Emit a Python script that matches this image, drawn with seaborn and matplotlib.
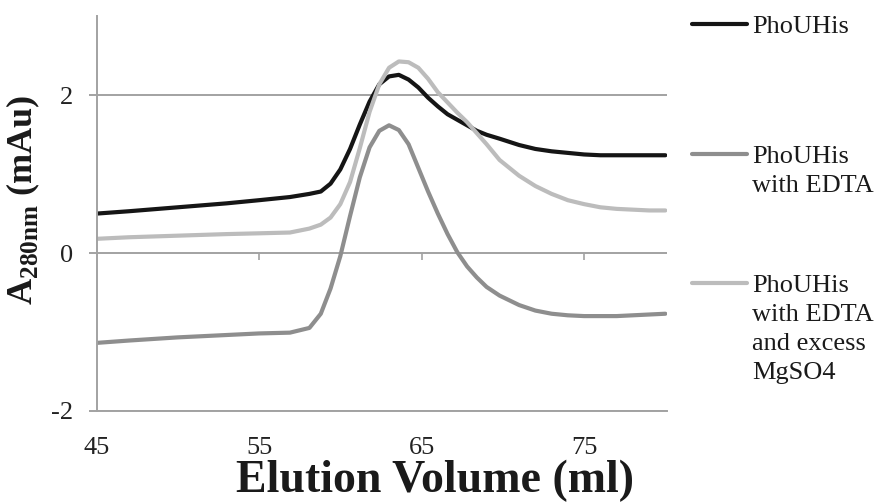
import pandas as pd
import matplotlib
matplotlib.use('Agg')
import matplotlib.pyplot as plt
from matplotlib.lines import Line2D
import seaborn as sns

# elution volume (ml)
volume = [45, 47, 50, 53, 55, 56.9, 58.1, 58.8, 59.4, 60.0, 60.6, 61.2, 61.8, 62.4, 63.0,
          63.6, 64.2, 64.8, 65.4, 66.0, 66.6, 67.2, 67.8, 68.4, 69.0, 69.8, 71, 72, 73,
          74, 75, 76, 77, 78, 79, 80]

phouhis = [0.50, 0.53, 0.58, 0.63, 0.67, 0.71, 0.75, 0.78, 0.88, 1.06, 1.32, 1.63, 1.92,
           2.14, 2.24, 2.26, 2.20, 2.10, 1.97, 1.86, 1.76, 1.69, 1.62, 1.55, 1.50, 1.45,
           1.37, 1.32, 1.29, 1.27, 1.25, 1.24, 1.24, 1.24, 1.24, 1.24]

phouhis_edta = [-1.14, -1.11, -1.07, -1.04, -1.02, -1.01, -0.95, -0.77, -0.45, -0.04,
                0.47, 0.96, 1.34, 1.55, 1.62, 1.56, 1.38, 1.08, 0.78, 0.50, 0.24, 0.01,
                -0.17, -0.31, -0.43, -0.54, -0.66, -0.73, -0.77, -0.79, -0.80, -0.80,
                -0.80, -0.79, -0.78, -0.77]

phouhis_edta_mg = [0.18, 0.20, 0.22, 0.24, 0.25, 0.26, 0.31, 0.36, 0.45, 0.62, 0.90, 1.33,
                   1.79, 2.14, 2.35, 2.43, 2.42, 2.35, 2.21, 2.04, 1.91, 1.78, 1.66, 1.52,
                   1.38, 1.18, 0.98, 0.85, 0.75, 0.67, 0.62, 0.58, 0.56, 0.55, 0.54, 0.54]

labels = ['PhoUHis', 'PhoUHis\nwith EDTA', 'PhoUHis\nwith EDTA\nand excess\nMgSO4']
colors = ['#151515', '#8e8e8e', '#bcbcbc']

df = pd.DataFrame({
    'volume': volume * 3,
    'a280': phouhis + phouhis_edta + phouhis_edta_mg,
    'sample': [labels[0]] * len(volume) + [labels[1]] * len(volume) + [labels[2]] * len(volume),
})

sns.set_style('white')
plt.rcParams['font.family'] = ['Liberation Serif', 'DejaVu Serif']
plt.rcParams['mathtext.fontset'] = 'custom'
plt.rcParams['mathtext.rm'] = 'Liberation Serif'
plt.rcParams['mathtext.bf'] = 'Liberation Serif:bold'
plt.rcParams['axes.unicode_minus'] = False

W, H = 882, 503
fig = plt.figure(figsize=(W / 100, H / 100), dpi=100)
ax = fig.add_axes([96.5 / W, 1 - 410.7 / H, (667 - 96.5) / W, (410.7 - 16.5) / H])

sns.lineplot(data=df, x='volume', y='a280', hue='sample', palette=colors,
             linewidth=3.0, legend=False, sort=False, ax=ax)

ax.set_xlim(45, 80.1)
ax.set_ylim(-2, 3)
ax.set_xticks([45, 55, 65, 75])
ax.set_yticks([-2, 0, 2])
ax.yaxis.grid(True, color='#a2a2a2', linewidth=1.4)
ax.xaxis.grid(False)
for s in ['top', 'right']:
    ax.spines[s].set_visible(False)
for s in ['left', 'bottom']:
    ax.spines[s].set_color('#a2a2a2')
    ax.spines[s].set_linewidth(1.4)
ax.tick_params(axis='y', length=6, width=1.4, color='#a2a2a2', pad=11,
               labelsize=19, labelcolor='#222222', left=True)
ax.tick_params(axis='x', length=0, pad=19, labelsize=19, labelcolor='#222222')

# tick marks on the zero line, like the category axis of the original
sec = ax.secondary_xaxis(0.4)
sec.set_xticks([55, 65, 75])
sec.tick_params(length=5, width=1.2, color='#a2a2a2', labelbottom=False)
sec.spines['bottom'].set_visible(False)

ax.set_xlabel('Elution Volume (ml)', fontsize=33, fontweight='bold', color='#1a1a1a')
ax.xaxis.set_label_coords((435 - 96.5) / (667 - 96.5), -0.125)
ax.set_ylabel(r'A$_{\mathbf{280nm}}$ (mAu)', fontsize=26, fontweight='bold', color='#1a1a1a')
ax.yaxis.set_label_coords(-0.095, 0.535)

# legend drawn to the right, handle level with the first text line
handle_y = [24, 154, 283]
for lab, col, hy in zip(labels, colors, handle_y):
    fig.add_artist(Line2D([692 / W, 747 / W], [1 - hy / H, 1 - hy / H], color=col, lw=3.0))
    fig.text(752 / W, 1 - (hy - 8) / H, lab, fontsize=19, va='top', ha='left',
             color='#1a1a1a', linespacing=1.42)

fig.savefig('out.png', dpi=100)
